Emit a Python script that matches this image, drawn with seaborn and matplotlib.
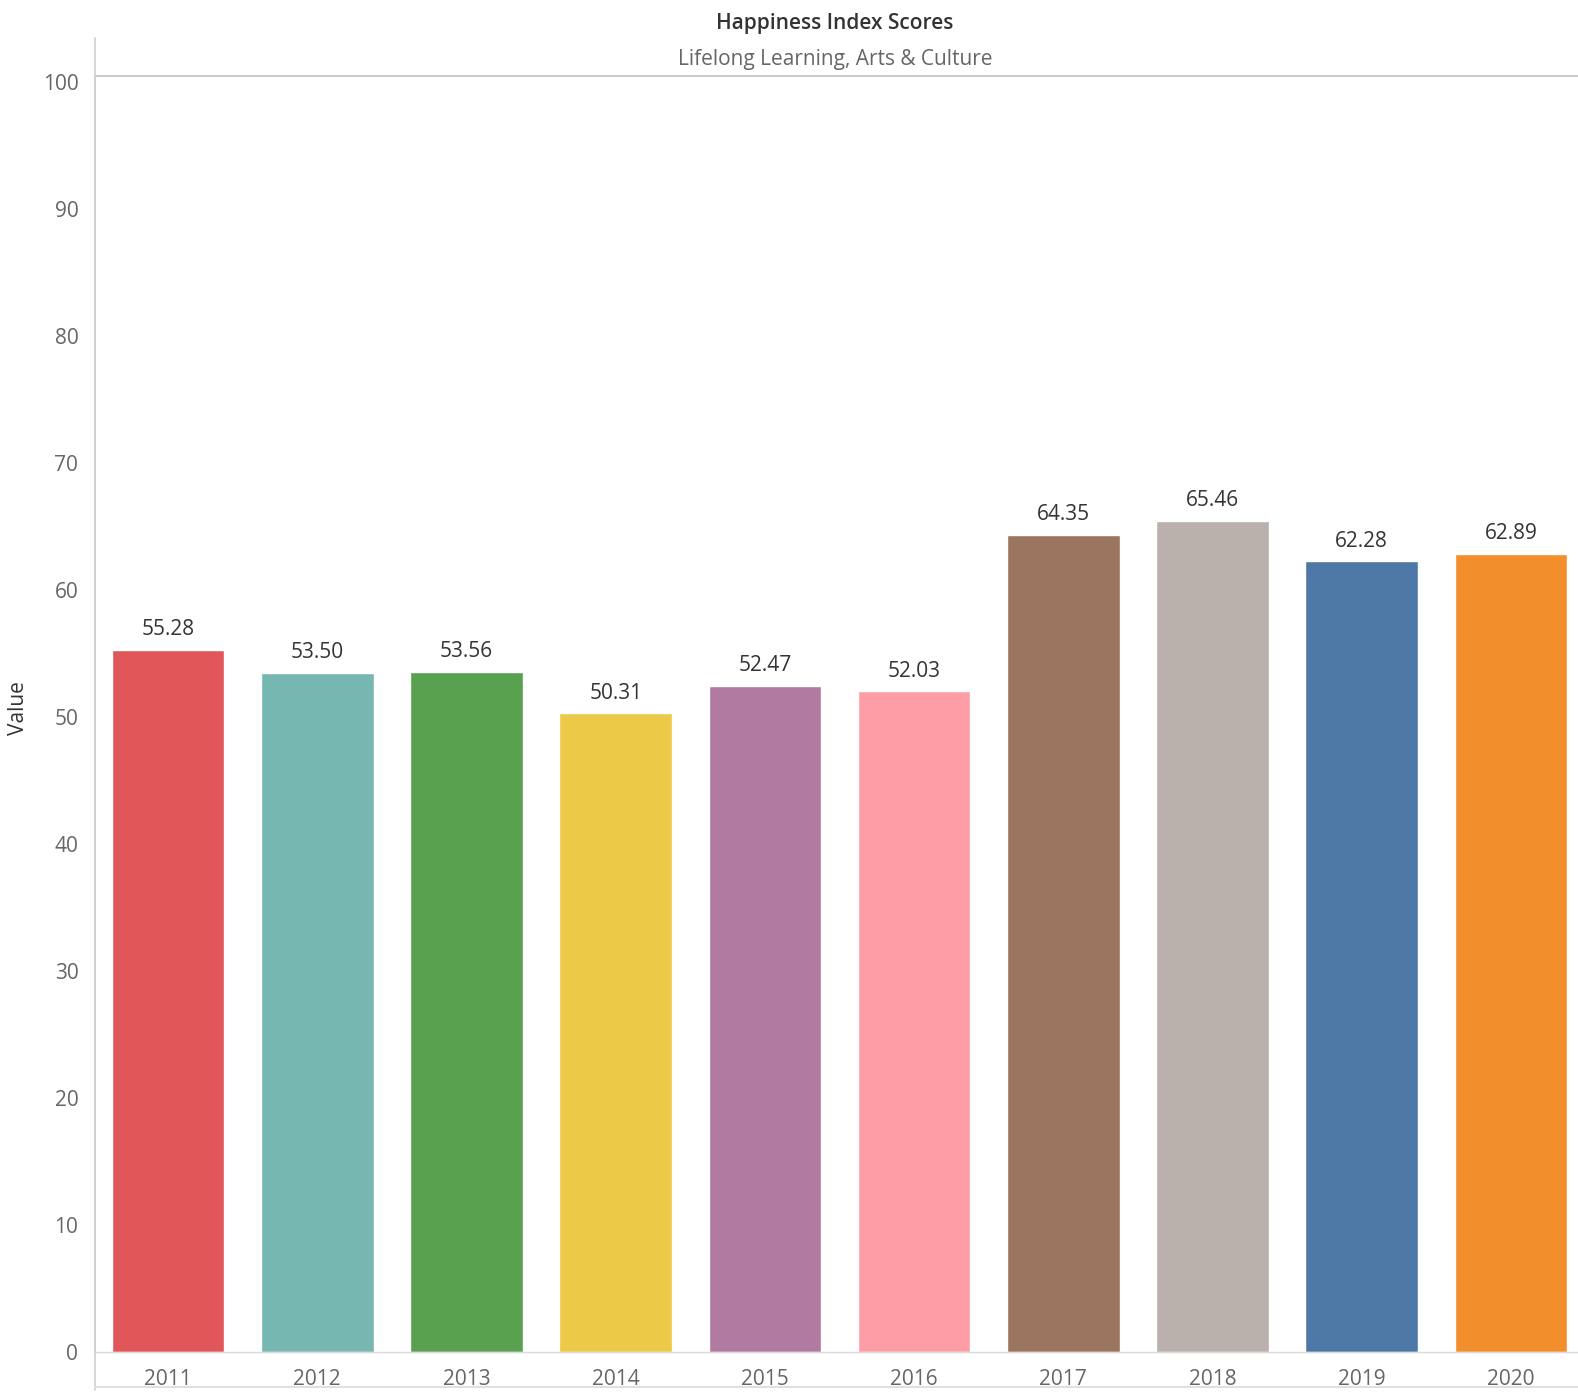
import matplotlib
matplotlib.use("Agg")
import matplotlib.pyplot as plt
import seaborn as sns
import pandas as pd
from matplotlib.lines import Line2D

years = ["2011", "2012", "2013", "2014", "2015", "2016", "2017", "2018", "2019", "2020"]
scores = [55.28, 53.50, 53.56, 50.31, 52.47, 52.03, 64.35, 65.46, 62.28, 62.89]
bar_colors = ["#E15759", "#76B7B2", "#59A14F", "#EDC948", "#B07AA1",
              "#FF9DA7", "#9C755F", "#BAB0AC", "#4E79A7", "#F28E2B"]
y_ticks = [0, 10, 20, 30, 40, 50, 60, 70, 80, 90, 100]

title = "Happiness Index Scores"
subtitle = "Lifelong Learning, Arts & Culture"

df = pd.DataFrame({"Year": years, "Value": scores})

sns.set_theme(style="white")
plt.rcParams["font.family"] = ["Open Sans", "DejaVu Sans"]

W, H = 1578, 1396
fig = plt.figure(figsize=(W / 100, H / 100), dpi=100)
left_px, right_px, top_px, bottom_px = 95, 1578, 76, 1352
ax_w = right_px - left_px
ax = fig.add_axes([left_px / W, 1 - bottom_px / H,
                   ax_w / W, (bottom_px - top_px) / H])

sns.barplot(data=df, x="Year", y="Value", hue="Year", palette=bar_colors,
            legend=False, width=0.755, saturation=1, ax=ax)

ax.set_xlim(-0.49, 9.45)
ax.set_ylim(0, 100.5)
ax.set_yticks(y_ticks)
ax.set_yticklabels([str(t) for t in y_ticks])
ax.tick_params(axis="both", length=0, colors="#666666", labelsize=15)
ax.tick_params(axis="y", pad=12)
ax.tick_params(axis="x", pad=12)
ax.set_xlabel("")
ax.set_ylabel("Value", fontsize=15, color="#333333")
ax.yaxis.set_label_coords((29 - left_px) / ax_w, 0.505)

for s in ["top", "right"]:
    ax.spines[s].set_visible(False)
ax.spines["bottom"].set_color("#d9d9d9")
ax.spines["bottom"].set_linewidth(1.0)
ax.spines["left"].set_color("#cfcfcf")
ax.spines["left"].set_linewidth(1.2)

for i, v in enumerate(scores):
    ax.annotate(f"{v:.2f}", xy=(i, v), xytext=(0, 7), textcoords="offset points",
                ha="center", va="bottom", fontsize=15, color="#333333")

# header rule, extended left rule and bottom frame line
fig.add_artist(Line2D([left_px / W, 1.0], [1 - top_px / H] * 2,
                      transform=fig.transFigure, color="#cccccc", lw=1.5))
fig.add_artist(Line2D([left_px / W] * 2, [1 - 38 / H, 1 - 1390 / H],
                      transform=fig.transFigure, color="#cfcfcf", lw=1.2))
fig.add_artist(Line2D([left_px / W, 1.0], [1 - 1387 / H] * 2,
                      transform=fig.transFigure, color="#e0e0e0", lw=1.5))

fig.text(835 / W, 1 - 23 / H, title, ha="center", va="center",
         fontsize=15, color="#333333", fontweight="semibold")
fig.text(835 / W, 1 - 59 / H, subtitle, ha="center", va="center",
         fontsize=15, color="#666666")

fig.savefig("out.png", dpi=100, facecolor="white")
